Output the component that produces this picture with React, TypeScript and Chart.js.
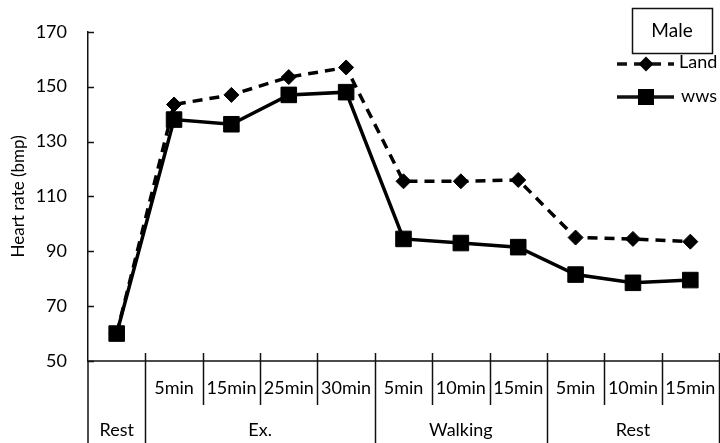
import React, { useEffect, useRef } from "react";
import { Chart, registerables } from "chart.js";

Chart.register(...registerables);

const categories = ["Rest", "Ex. 5min", "Ex. 15min", "Ex. 25min", "Ex. 30min", "Walking 5min", "Walking 10min", "Walking 15min", "Rest 5min", "Rest 10min", "Rest 15min"];
const subLabels = ["", "5min", "15min", "25min", "30min", "5min", "10min", "15min", "5min", "10min", "15min"];
const groupLabels = ["Rest", "Ex.", "Walking", "Rest"];
const groupSizes = [1, 4, 3, 3];
const landValues = [60, 143.5, 147, 153.5, 157, 115.5, 115.5, 116, 95, 94.5, 93.5];
const wwsValues = [60, 138, 136.3, 147, 148, 94.5, 93, 91.5, 81.5, 78.5, 79.5];
const yTicks = [50, 70, 90, 110, 130, 150, 170];
const legendTitle = "Male";
const seriesNames = ["Land", "wws"];

const FONT = "Lato, 'Open Sans', sans-serif";

const axisPlugin = {
  id: "multiAxis",
  afterDraw(chart: any) {
    const ctx = chart.ctx;
    const x = chart.scales.x;
    const y = chart.scales.y;
    const area = chart.chartArea;
    const H = chart.height;
    const step = x.getPixelForValue(1) - x.getPixelForValue(0);
    const bound = (i: number) => x.getPixelForValue(i) - step / 2;
    const groupBounds: number[] = [0];
    groupSizes.forEach((s) => groupBounds.push(groupBounds[groupBounds.length - 1] + s));
    ctx.save();
    ctx.strokeStyle = "#111";
    ctx.lineWidth = 1.5;
    yTicks.forEach((v) => {
      const py = Math.round(y.getPixelForValue(v)) + 0.5;
      ctx.beginPath();
      ctx.moveTo(area.left, py);
      ctx.lineTo(area.left + 6, py);
      ctx.stroke();
    });
    ctx.beginPath();
    ctx.moveTo(area.left, area.bottom);
    ctx.lineTo(area.left, H);
    ctx.stroke();
    ctx.beginPath();
    ctx.moveTo(area.left, area.bottom);
    ctx.lineTo(chart.width, area.bottom);
    ctx.stroke();
    for (let i = 1; i <= categories.length; i++) {
      const bx = Math.round(bound(i)) + 0.5;
      const isGroup = groupBounds.includes(i);
      ctx.beginPath();
      ctx.moveTo(bx, area.bottom - 8);
      ctx.lineTo(bx, isGroup ? H : area.bottom + 44);
      ctx.stroke();
    }
    ctx.fillStyle = "#000";
    ctx.font = `18px ${FONT}`;
    ctx.textAlign = "center";
    ctx.textBaseline = "middle";
    subLabels.forEach((l, i) => {
      if (l) ctx.fillText(l, x.getPixelForValue(i), area.bottom + 27);
    });
    ctx.font = `18px ${FONT}`;
    groupLabels.forEach((l, g) => {
      const cx = (bound(groupBounds[g]) + bound(groupBounds[g + 1])) / 2;
      ctx.fillText(l, cx, area.bottom + 69);
    });
    // legend
    ctx.lineWidth = 1.5;
    ctx.strokeRect(632.5, 8.5, 80, 45);
    ctx.font = `19px ${FONT}`;
    ctx.fillText(legendTitle, 672, 31);
    ctx.textAlign = "left";
    ctx.font = `18px ${FONT}`;
    ctx.lineWidth = 3.5;
    ctx.setLineDash([10, 7]);
    ctx.beginPath();
    ctx.moveTo(617, 64);
    ctx.lineTo(674, 64);
    ctx.stroke();
    ctx.setLineDash([]);
    ctx.beginPath();
    ctx.moveTo(646 - 7.5, 64);
    ctx.lineTo(646, 64 - 7.5);
    ctx.lineTo(646 + 7.5, 64);
    ctx.lineTo(646, 64 + 7.5);
    ctx.closePath();
    ctx.fill();
    ctx.fillText(seriesNames[0], 679, 62);
    ctx.beginPath();
    ctx.moveTo(617, 97);
    ctx.lineTo(674, 97);
    ctx.stroke();
    ctx.fillRect(638, 89, 16, 16);
    ctx.fillText(seriesNames[1], 681, 96);
    ctx.restore();
  },
};

export default function App() {
  const ref = useRef<HTMLCanvasElement>(null);
  useEffect(() => {
    if (!ref.current) return;
    const chart = new Chart(ref.current, {
      type: "line",
      data: {
        labels: categories,
        datasets: [
          {
            label: seriesNames[1],
            data: wwsValues,
            borderColor: "#000",
            backgroundColor: "#000",
            borderWidth: 3.5,
            pointStyle: "rect",
            pointRadius: 11,
            pointBorderWidth: 1,
            pointBackgroundColor: "#000",
            pointBorderColor: "#000",
            tension: 0,
          },
          {
            label: seriesNames[0],
            data: landValues,
            borderColor: "#000",
            backgroundColor: "#000",
            borderWidth: 3.5,
            borderDash: [10, 7],
            pointStyle: "rectRot",
            pointRadius: 7.5,
            pointBorderWidth: 1,
            pointBackgroundColor: "#000",
            pointBorderColor: "#000",
            tension: 0,
          },
        ],
      },
      options: {
        responsive: false,
        animation: false,
        layout: { autoPadding: false, padding: { top: 16, right: 1, left: 0, bottom: 0 } },
        plugins: { legend: { display: false }, tooltip: { enabled: false } },
        scales: {
          x: {
            type: "category",
            offset: true,
            grid: { display: false, drawTicks: false },
            border: { display: false },
            ticks: { display: false },
            afterFit: (s: any) => {
              s.height = 82;
            },
          },
          y: {
            min: 50,
            max: 170,
            grid: { display: false, drawTicks: false },
            border: { display: true, color: "#111", width: 1.5 },
            ticks: {
              stepSize: 20,
              padding: 21,
              color: "#000",
              font: { family: FONT, size: 18 },
            },
            title: {
              display: true,
              text: "Heart rate (bmp)",
              color: "#000",
              font: { family: FONT, size: 17 },
              padding: { top: 8, bottom: 0 },
            },
            afterFit: (s: any) => {
              s.width = 88;
            },
          },
        },
      },
      plugins: [axisPlugin],
    });
    return () => chart.destroy();
  }, []);
  return (
    <div style={{ position: "absolute", left: 0, top: 0, width: 720, height: 443, background: "#fff" }}>
      <canvas ref={ref} width={720} height={443} />
    </div>
  );
}
